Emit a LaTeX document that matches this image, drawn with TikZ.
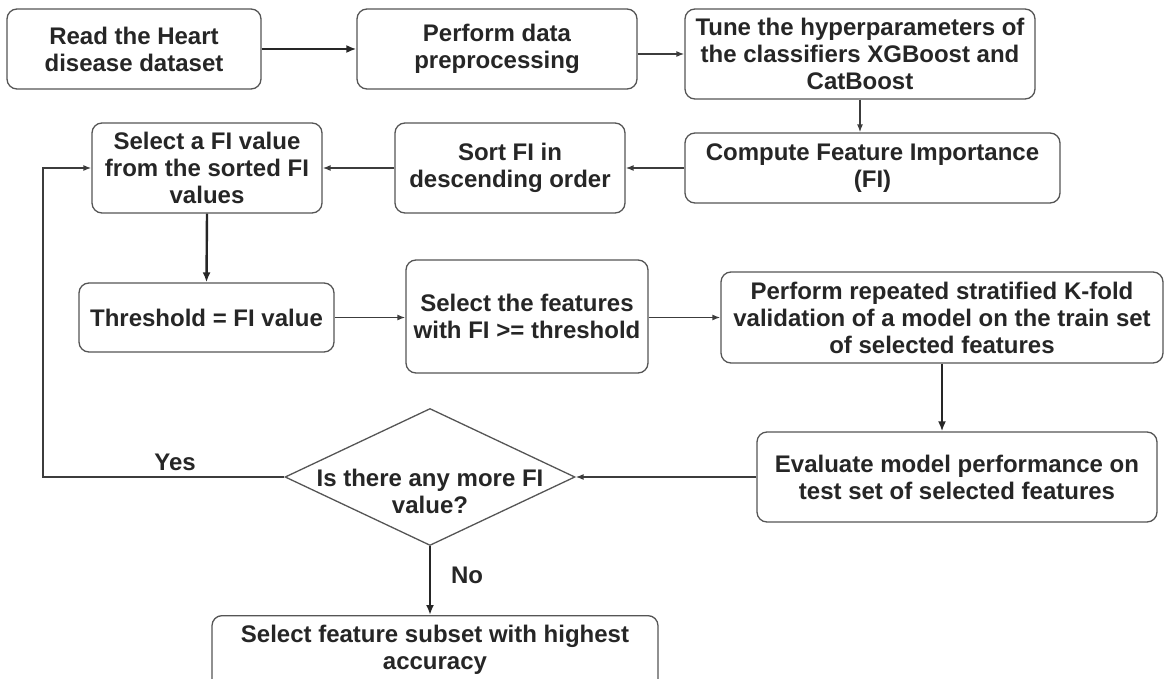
\documentclass[tikz,border=0pt]{standalone}
\usepackage{fontspec}
\setmainfont{Liberation Sans}
\usetikzlibrary{arrows.meta,shapes.geometric}
\definecolor{edge}{HTML}{555555}
\definecolor{ink}{HTML}{262626}
\tikzset{
  box/.style={draw=edge, line width=1.3pt, rounded corners=10pt, fill=white,
    inner sep=0pt, align=center, text=ink,
    font=\fontsize{24}{27}\selectfont\bfseries},
  txt/.style={inner sep=0pt, align=center, text=ink,
    font=\fontsize{24}{27}\selectfont\bfseries},
  thin/.style={draw=ink!90, line width=1.4pt, -{Latex[length=8pt,width=6pt]}},
  thick/.style={draw=ink, line width=2.4pt, -{Latex[length=10pt,width=8pt]}},
}
\begin{document}
\begin{tikzpicture}[x=1pt,y=-1pt]
\useasboundingbox (0,0) rectangle (1165,679);
\node[box, minimum width=254pt, minimum height=80pt] (b1) at (134,49) {Read the Heart\\disease dataset};
\node[box, minimum width=280pt, minimum height=80pt] (b2) at (497,49) {Perform data\\preprocessing};
\node[box, minimum width=350pt, minimum height=90pt] (b3) at (860,54) {Tune the hyperparameters of\\the classifiers XGBoost and\\CatBoost};
\node[box, minimum width=375pt, minimum height=70pt] (b4) at (872.5,168) {Compute Feature Importance\\(FI)};
\node[box, minimum width=230pt, minimum height=90pt] (b5) at (510,168) {Sort FI in\\descending order};
\node[box, minimum width=230pt, minimum height=90pt] (b6) at (207,168) {Select a FI value\\from the sorted FI\\values};
\node[box, minimum width=255pt, minimum height=69pt] (b7) at (206.5,317.5) {Threshold = FI value};
\node[box, minimum width=242pt, minimum height=113pt] (b8) at (527,316.5) {Select the features\\with FI >= threshold};
\node[box, minimum width=442pt, minimum height=91pt] (b9) at (942,317.5) {Perform repeated stratified K-fold\\validation of a model on the train set\\of selected features};
\node[box, minimum width=400pt, minimum height=90pt] (b10) at (957,477) {Evaluate model performance on\\test set of selected features};
\node[diamond, draw=edge, line width=1.3pt, fill=white, inner sep=0pt, minimum width=290pt, minimum height=137pt] (d) at (430,477) {};
\node[txt] (dt) at (430,491) {Is there any more FI\\value?};
\node[box, minimum width=446pt, minimum height=80pt, anchor=north] (b11) at (435,615) {};
\node[txt] (b11t) at (435,650) {Select feature subset with highest\\accuracy};
\coordinate (lb) at (43,477);
\coordinate (lt) at (43,168);

\draw[thick] (b1.east) -- (b2.west);
\draw[thin] (b2.east |- b3.west) -- (b3.west);
\draw[thin] (b3.south) -- (b3.south |- b4.north);
\draw[thin] (b4.west) -- (b5.east);
\draw[thin] (b5.west) -- (b6.east);
\draw[thick] (b6.south) -- (b7.north);
\draw[thin] (b7.east) -- (b7.east -| b8.west);
\draw[thin] (b8.east |- b9.west) -- (b9.west);
\draw[thick] (b9.south) -- (b9.south |- b10.north);
\draw[thin] (b10.west) -- (d.east);
\draw[thin] (d.west) -- (lb) -- (lt) -- (b6.west);
\draw[thick] (d.south) -- (d.south |- b11.north);
\node[txt] (yes) at (175,462) {Yes};
\node[txt] (no) at (467,575) {No};
\end{tikzpicture}
\end{document}
